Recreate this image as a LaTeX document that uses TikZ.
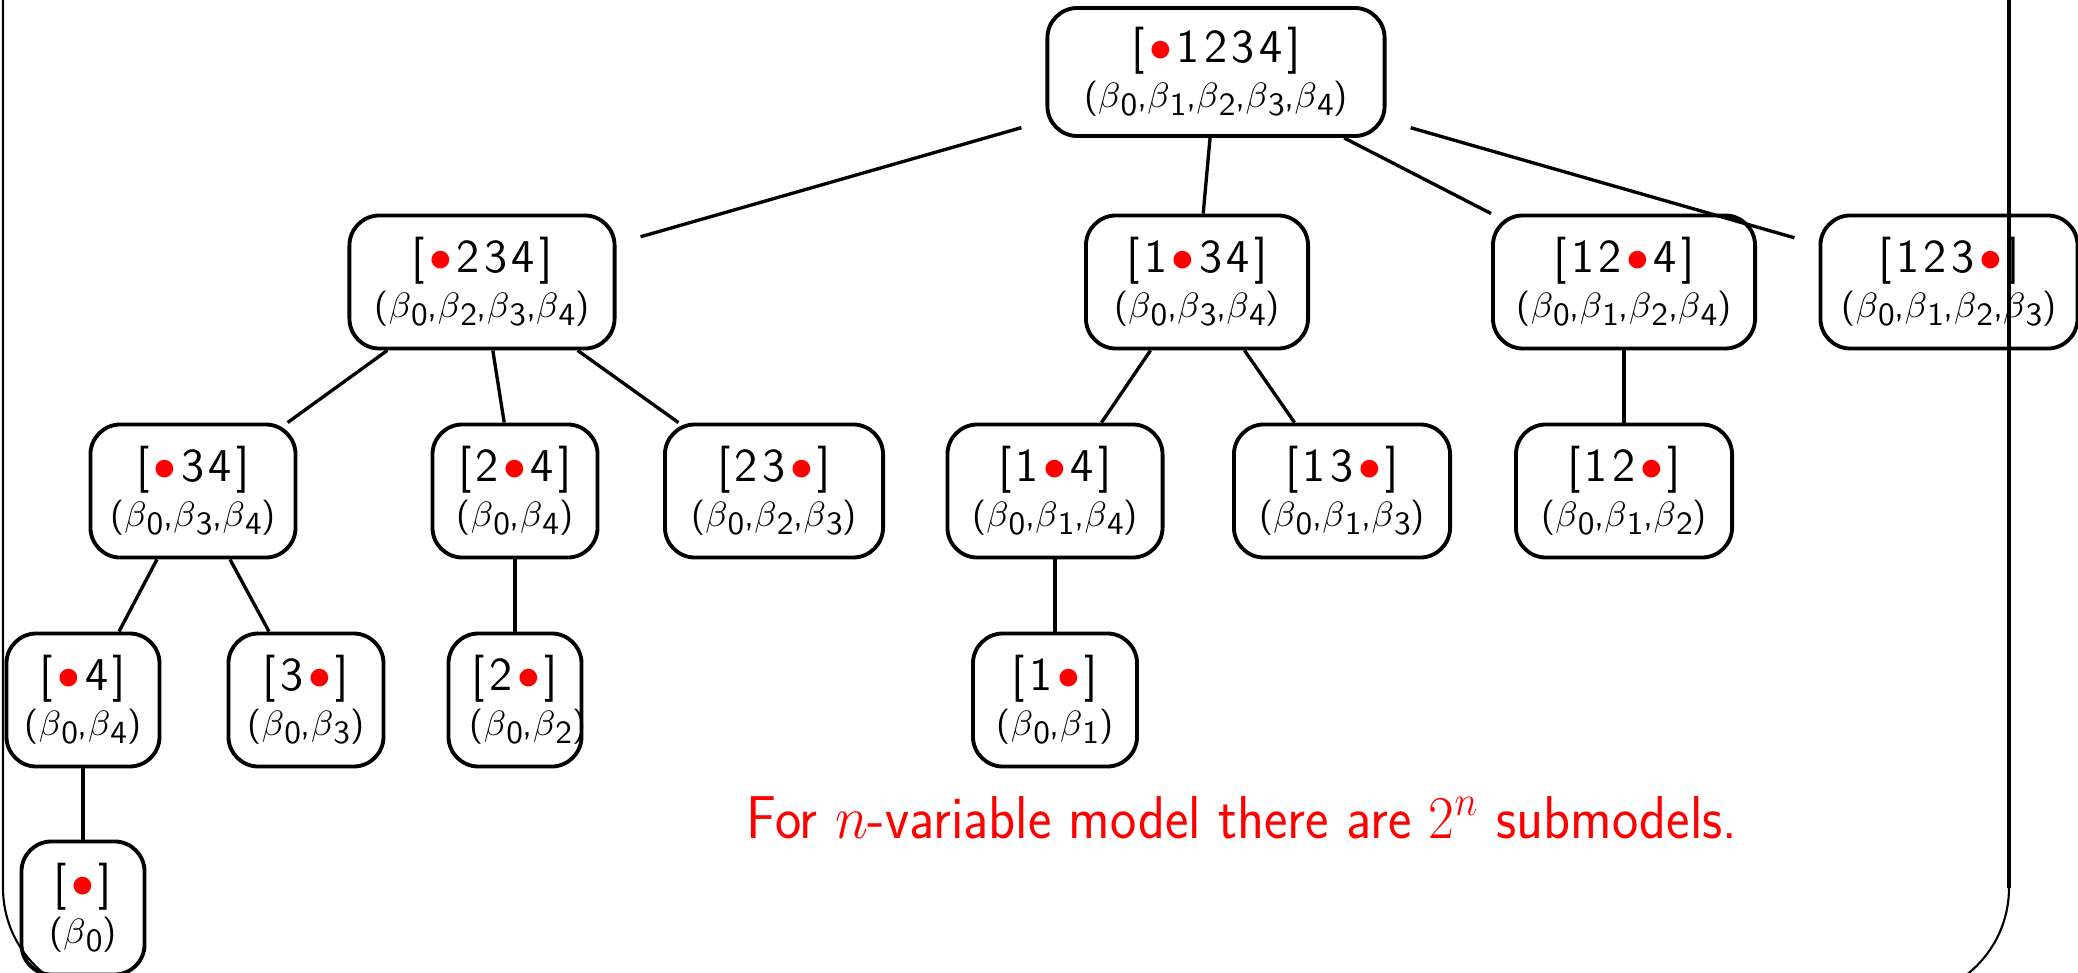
\documentclass[tikz,border=0pt]{standalone}
\usepackage{graphicx}
\usepackage{xcolor}

% red marker for the dropped position
\newcommand{\rdot}{\textcolor{red}{\raisebox{0.4pt}{\scalebox{0.9}{$\bullet$}}}}
% letter spacing in the pattern line
\newcommand{\g}{\kern1.3pt}
% beta with a near full-size sans subscript
\newcommand{\bsub}[1]{$\beta$\raisebox{-0.22em}{\scalebox{0.92}{#1}}}
% two-line label: pattern on top, coefficient list below (optional shift of the lower line)
\newcommand{\mtxt}[3][0pt]{%
  \makebox[0pt]{#2}\\
  \makebox[0pt]{\hspace*{#1}\scalebox{1.03}[1]{\fontsize{10}{10}\selectfont #3}}}

\tikzset{
  mnode/.style={draw, line width=1.1pt, rounded corners=0.3cm, inner sep=0pt,
    outer xsep=0.26cm, outer ysep=0.55pt, minimum height=1.33cm, align=center,
    font=\fontsize{13.4}{12.8}\selectfont\sffamily},
  link/.style={line width=0.95pt},
  frameline/.style={line width=0.6pt},
}

\begin{document}
\begin{tikzpicture}[x=0.01cm, y=-0.01cm]
\useasboundingbox (0,0) rectangle (2078,973);

% level 0
\node[mnode, minimum width=3.37cm, minimum height=1.28cm] (r) at (1216,72)
  {\mtxt{[\g\rdot\g1\g2\g3\g4\g]}{(\bsub0,\bsub1,\bsub2,\bsub3,\bsub4)}};

% level 1
\node[mnode, minimum width=2.65cm] (a) at (482,282)
  {\mtxt{[\g\rdot\g2\g3\g4\g]}{(\bsub0,\bsub2,\bsub3,\bsub4)}};
\node[mnode, minimum width=2.22cm] (b) at (1197,282)
  {\mtxt{[\g1\g\rdot\g3\g4\g]}{(\bsub0,\bsub3,\bsub4)}};
\node[mnode, minimum width=2.62cm] (c) at (1624,282)
  {\mtxt{[\g1\g2\g\rdot\g4\g]}{(\bsub0,\bsub1,\bsub2,\bsub4)}};
\node[mnode, minimum width=2.57cm] (d) at (1949,282)
  {\mtxt{[\g1\g2\g3\g\rdot\g]}{(\bsub0,\bsub1,\bsub2,\bsub3)}};

% level 2
\node[mnode, minimum width=2.05cm] (aa) at (193,491)
  {\mtxt{[\g\rdot\g3\g4\g]}{(\bsub0,\bsub3,\bsub4)}};
\node[mnode, minimum width=1.65cm] (ab) at (515,491)
  {\mtxt{[\g2\g\rdot\g4\g]}{(\bsub0,\bsub4)}};
\node[mnode, minimum width=2.18cm] (ac) at (774,491)
  {\mtxt{[\g2\g3\g\rdot\g]}{(\bsub0,\bsub2,\bsub3)}};
\node[mnode, minimum width=2.15cm] (ba) at (1055,491)
  {\mtxt{[\g1\g\rdot\g4\g]}{(\bsub0,\bsub1,\bsub4)}};
\node[mnode, minimum width=2.16cm] (bb) at (1342,491)
  {\mtxt{[\g1\g3\g\rdot\g]}{(\bsub0,\bsub1,\bsub3)}};
\node[mnode, minimum width=2.16cm] (ca) at (1624,491)
  {\mtxt{[\g1\g2\g\rdot\g]}{(\bsub0,\bsub1,\bsub2)}};

% level 3
\node[mnode, minimum width=1.53cm] (aaa) at (83,700)
  {\mtxt{[\g\rdot\g4\g]}{(\bsub0,\bsub4)}};
\node[mnode, minimum width=1.55cm] (aab) at (306,700)
  {\mtxt{[\g3\g\rdot\g]}{(\bsub0,\bsub3)}};
\node[mnode, minimum width=1.33cm] (aba) at (515,700)
  {\mtxt[0.26cm]{[\g2\g\rdot\g]}{(\bsub0,\bsub2)}};
\node[mnode, minimum width=1.64cm] (baa) at (1055,700)
  {\mtxt{[\g1\g\rdot\g]}{(\bsub0,\bsub1)}};

% level 4
\node[mnode, minimum width=1.23cm] (aaaa) at (83,908)
  {\mtxt{[\g\rdot\g]}{(\bsub0)}};

% connectors
\draw[link] (r) -- (a);
\draw[link] (r) -- (b);
\draw[link] (r) -- (c);
\draw[link] (r) -- (d);
\draw[link] (a) -- (aa);
\draw[link] (a) -- (ab);
\draw[link] (a) -- (ac);
\draw[link] (b) -- (ba);
\draw[link] (b) -- (bb);
\draw[link] (c) -- (ca);
\draw[link] (aa) -- (aaa);
\draw[link] (aa) -- (aab);
\draw[link] (ab) -- (aba);
\draw[link] (ba) -- (baa);
\draw[link] (aaa) -- (aaaa);

% note
\node[anchor=base, text=red, font=\fontsize{17.2}{20}\selectfont\sffamily] (note) at (1242,838)
  {\scalebox{0.923}[1]{For $n$-variable model there are $2^n$ submodels.}};

% slide frame
\draw[frameline, rounded corners=1.1cm] (3,-40) -- (3,998) -- (2009,998) -- (2009,-40);
\draw[line width=0.95pt] (2009,-40) -- (2009,888);
\end{tikzpicture}
\end{document}
